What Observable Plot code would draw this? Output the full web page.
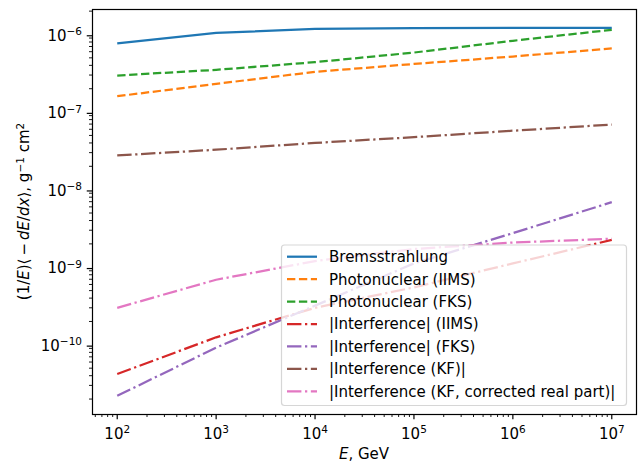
<!DOCTYPE html>
<html><head><meta charset="utf-8">
<script src="https://cdn.jsdelivr.net/npm/d3@7"></script>
<script src="https://cdn.jsdelivr.net/npm/@observablehq/plot@0.6"></script>
<style>body{margin:0;background:#fff} svg{font-family:"DejaVu Sans";}</style>
</head><body><div id="chart"></div>
<script>
// ---- data ----
const energy = [1e2, 1e3, 1e4, 1e5, 1e6, 1e7];
const bremsstrahlung   = [7.7e-7, 1.05e-6, 1.18e-6, 1.21e-6, 1.22e-6, 1.22e-6];
const photonuclearIIMS = [1.6e-7, 2.31e-7, 3.3e-7, 4.17e-7, 5.2e-7, 6.6e-7];
const photonuclearFKS  = [2.96e-7, 3.5e-7, 4.4e-7, 5.85e-7, 8.3e-7, 1.15e-6];
const interfIIMS       = [4.2e-11, 1.25e-10, 3.0e-10, 5.5e-10, 1.12e-9, 2.25e-9];
const interfFKS        = [2.2e-11, 9.2e-11, 3.2e-10, 1.12e-9, 2.75e-9, 6.9e-9];
const interfKF         = [2.76e-8, 3.27e-8, 4.0e-8, 4.75e-8, 5.75e-8, 6.9e-8];
const interfKFcorr     = [3.0e-10, 6.9e-10, 1.2e-9, 1.72e-9, 2.08e-9, 2.33e-9];

const seriesNames = [
  "Bremsstrahlung",
  "Photonuclear (IIMS)",
  "Photonuclear (FKS)",
  "|Interference| (IIMS)",
  "|Interference| (FKS)",
  "|Interference (KF)|",
  "|Interference (KF, corrected real part)|"
];
const seriesValues = [bremsstrahlung, photonuclearIIMS, photonuclearFKS, interfIIMS, interfFKS, interfKF, interfKFcorr];
const seriesColors = ["#1f77b4", "#ff7f0e", "#2ca02c", "#d62728", "#9467bd", "#8c564b", "#e377c2"];
const seriesStyles = ["solid", "dashed", "dashed", "dashdot", "dashdot", "dashdot", "dashdot"];

const xTickValues = [1e2, 1e3, 1e4, 1e5, 1e6, 1e7];
const yTickValues = [1e-10, 1e-9, 1e-8, 1e-7, 1e-6];

// ---- styling ----
const FS = 15;          // font size, px
const LW = 2.25;        // line width, px
const dashFor = s => s === "dashed" ? `${3.7*LW},${1.6*LW}` : s === "dashdot" ? `${6.4*LW},${1.6*LW},${LW},${1.6*LW}` : "none";

const xMinor = [], yMinor = [];
for (const d of [1e1, ...xTickValues]) for (let k = 2; k <= 9; k++) xMinor.push(k * d);
for (const d of [1e-11, ...yTickValues]) for (let k = 2; k <= 9; k++) yMinor.push(k * d);
const xDomain = [10**1.75, 10**7.25];
const yDomain = [10**-10.898, 10**-5.678];

const rows = [];
seriesNames.forEach((name, i) => seriesValues[i].forEach((v, j) => rows.push({name, E: energy[j], v})));

const lineMarks = seriesNames.map((name, i) => Plot.line(rows.filter(r => r.name === name), {
  x: "E", y: "v", stroke: seriesColors[i], strokeWidth: LW,
  strokeDasharray: dashFor(seriesStyles[i]), strokeLinejoin: "round", strokeLinecap: "butt"
}));

const fmt = d => "10^" + Math.round(Math.log10(d));

const chart = Plot.plot({
  width: 638, height: 463,
  marginLeft: 92, marginRight: 2, marginTop: 9, marginBottom: 49,
  style: {fontFamily: "DejaVu Sans", fontSize: FS + "px", background: "#fff", color: "#000"},
  x: {type: "log", domain: xDomain},
  y: {type: "log", domain: yDomain},
  marks: [
    ...lineMarks,
    Plot.axisX(xMinor.filter(v => v >= xDomain[0] && v <= xDomain[1]), {tickSize: 3, strokeWidth: 0.9, tickFormat: () => "", label: null}),
    Plot.axisY(yMinor.filter(v => v >= yDomain[0] && v <= yDomain[1]), {tickSize: 3, strokeWidth: 0.9, tickFormat: () => "", label: null}),
    Plot.axisX(xTickValues, {tickSize: 5.25, strokeWidth: 1.2, tickPadding: 8.1, tickFormat: fmt, fontSize: FS, label: null}),
    Plot.axisY(yTickValues, {tickSize: 5.25, strokeWidth: 1.2, tickPadding: 5.25, dy: 1.3, tickFormat: fmt, fontSize: FS, label: null}),
    Plot.frame({stroke: "#000", strokeWidth: 1.2})
  ]
});
document.getElementById("chart").appendChild(chart);

const svg = d3.select(chart);
// superscript tick labels
svg.selectAll("text").each(function() {
  const t = this.textContent;
  if (!t.startsWith("10^")) return;
  const exp = t.slice(3).replace("-", "\u2212");
  const sel = d3.select(this);
  sel.text(null);
  sel.append("tspan").text("10");
  sel.append("tspan").attr("dy", -5.5).attr("font-size", 10.5).text(exp);
});

// axis labels
const xl = svg.append("text").attr("x", 364).attr("y", 459).attr("text-anchor", "middle")
  .attr("font-size", FS).attr("fill", "#000");
xl.append("tspan").attr("font-style", "italic").text("E");
xl.append("tspan").text(", GeV");

const yl = svg.append("text").attr("transform", "translate(29,211.5) rotate(-90)")
  .attr("text-anchor", "middle").attr("font-size", FS).attr("fill", "#000");
yl.append("tspan").text("(1/");
yl.append("tspan").attr("font-style", "italic").text("E");
yl.append("tspan").text(")\u27E8");
yl.append("tspan").attr("dx", 3).text("\u2212");
yl.append("tspan").attr("dx", 3).attr("font-style", "italic").text("dE");
yl.append("tspan").text("/");
yl.append("tspan").attr("font-style", "italic").text("dx");
yl.append("tspan").text("\u27E9, g");
yl.append("tspan").attr("dy", -5.5).attr("font-size", 10.5).text("\u22121");
yl.append("tspan").attr("dy", 5.5).text(" cm");
yl.append("tspan").attr("dy", -5.5).attr("font-size", 10.5).text("2");

// legend
const lg = svg.append("g").attr("text-anchor", "start");
lg.append("rect").attr("x", 281.5).attr("y", 245).attr("width", 345).attr("height", 160.5).attr("rx", 3)
  .attr("fill", "#fff").attr("fill-opacity", 0.8).attr("stroke", "#ccc").attr("stroke-opacity", 0.8).attr("stroke-width", 1.2);
seriesNames.forEach((name, i) => {
  const cy = 256.7 + i * 22.44;
  lg.append("path").attr("d", `M287,${cy}H317`)
    .attr("fill", "none")
    .attr("stroke", seriesColors[i]).attr("stroke-width", LW)
    .attr("stroke-dasharray", dashFor(seriesStyles[i])).attr("stroke-linecap", "butt");
  lg.append("text").attr("x", 329).attr("y", cy + 5.4).attr("text-anchor", "start")
    .attr("font-size", FS).attr("fill", "#000").text(name);
});
</script></body></html>
